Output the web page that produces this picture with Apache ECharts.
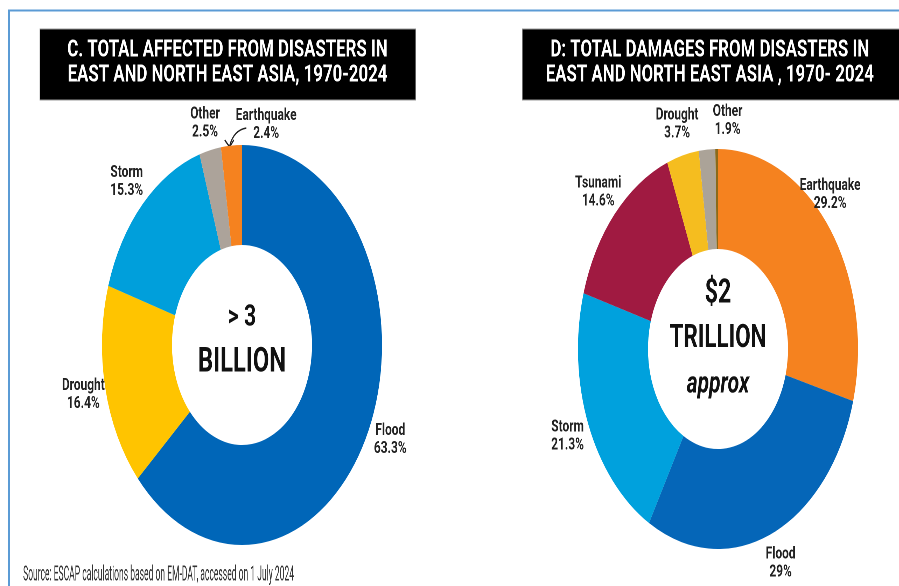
<!DOCTYPE html>
<html>
<head>
<meta charset="utf-8">
<script src="https://cdn.jsdelivr.net/npm/echarts@6/dist/echarts.min.js"></script>
<style>
  html, body { margin: 0; padding: 0; background: #fff; overflow: hidden; }
  #wrap { width: 899px; height: 586px; overflow: hidden; position: relative; }
  #chart { width: 1285px; height: 586px; transform: scaleX(0.7); transform-origin: 0 0; position: absolute; left: 0; top: 0; }
</style>
</head>
<body>
<div id="wrap"><div id="chart"></div></div>
<script>
// ---- data ----
const affectedCategories = ['Flood', 'Drought', 'Storm', 'Other', 'Earthquake'];
const affectedValues     = [63.3, 16.4, 15.3, 2.5, 2.4];
const affectedColors     = ['#0066b8', '#ffc400', '#009fdb', '#aca39a', '#f5821f'];

const damageCategories = ['Earthquake', 'Flood', 'Storm', 'Tsunami', 'Drought', 'Other', ''];
const damageValues     = [29.2, 29, 21.3, 14.6, 3.7, 1.9, 0.3];
const damageColors     = ['#f5821f', '#0566b8', '#00a1dd', '#a01a41', '#f5bd1f', '#aba398', '#8a6a1a'];

const titleLeft  = 'C. TOTAL AFFECTED FROM DISASTERS IN\nEAST AND NORTH EAST ASIA, 1970-2024';
const titleRight = 'D: TOTAL DAMAGES FROM DISASTERS IN\nEAST AND NORTH EAST ASIA , 1970- 2024';
const centerLeft  = ['> 3', 'BILLION'];
const centerRight = ['$2', 'TRILLION', 'approx'];
const sourceText = 'Source: ESCAP calculations based on EM-DAT, accessed on 1 July 2024';

// ---- layout (unscaled coordinates; page is squeezed horizontally by 0.7) ----
const leftCenter = [345.7, 345];
const rightCenter = [1025.7, 349];
const labelOffsetsLeft = { 4: { dx: 52, dy: 11 }, 3: { dx: 0, dy: 4 } };
const labelOffsetsRight = { 5: { dx: 32, dy: 3 }, 0: { dx: -24, dy: -13 } };

function mkData(cats, vals, colors, transparent) {
  return cats.map((c, i) => ({
    name: c,
    value: vals[i],
    itemStyle: { color: transparent ? 'rgba(0,0,0,0)' : colors[i] },
    label: { show: transparent && c !== '' }
  }));
}

const labelStyle = {
  show: true,
  position: 'inside',
  formatter: '{b}\n{c}%',
  color: '#222',
  fontFamily: 'Roboto',
  fontWeight: 'bold',
  fontSize: 17,
  lineHeight: 18,
  textBorderWidth: 0,
  align: 'center'
};

function pieSeries(center, data) {
  return {
    type: 'pie',
    center: center,
    radius: [100, 200],
    startAngle: 90,
    clockwise: true,
    avoidLabelOverlap: false,
    silent: true,
    label: { show: false },
    labelLine: { show: false },
    itemStyle: { borderWidth: 0 },
    emphasis: { disabled: true },
    data: data
  };
}
function labelSeries(center, data, offsets) {
  return {
    type: 'pie',
    center: center,
    radius: [220, 238],
    startAngle: 90,
    clockwise: true,
    avoidLabelOverlap: false,
    silent: true,
    label: labelStyle,
    labelLine: { show: false },
    itemStyle: { borderWidth: 0 },
    emphasis: { disabled: true },
    labelLayout: function (p) { return offsets[p.dataIndex] || {}; },
    data: data
  };
}

const chart = echarts.init(document.getElementById('chart'), null, { devicePixelRatio: 2 });

const titleFont = { fill: '#fff', fontFamily: 'Roboto', fontWeight: 'bold', fontSize: 24, lineHeight: 25, align: 'center', verticalAlign: 'middle' };
const bigFont = { fill: '#111', fontFamily: 'Roboto', fontWeight: 'bold', align: 'center', verticalAlign: 'middle' };

chart.setOption({
  animation: false,
  backgroundColor: '#fff',
  series: [
    pieSeries(leftCenter, mkData(affectedCategories, affectedValues, affectedColors, false)),
    labelSeries(leftCenter, mkData(affectedCategories, affectedValues, affectedColors, true), labelOffsetsLeft),
    pieSeries(rightCenter, mkData(damageCategories, damageValues, damageColors, false)),
    labelSeries(rightCenter, mkData(damageCategories, damageValues, damageColors, true), labelOffsetsRight)
  ],
  graphic: [
    // frame
    { type: 'line', shape: { x1: 11, y1: 10.5, x2: 1285, y2: 10.5 }, style: { stroke: '#5b9bd5', lineWidth: 2 } },
    { type: 'line', shape: { x1: 13, y1: 10, x2: 13, y2: 586 }, style: { stroke: '#5b9bd5', lineWidth: 3 } },
    // title boxes
    { type: 'rect', shape: { x: 57, y: 29, width: 537, height: 71 }, style: { fill: '#000', stroke: '#999', lineWidth: 1 } },
    { type: 'text', x: 325, y: 63, style: Object.assign({ text: titleLeft }, titleFont) },
    { type: 'rect', shape: { x: 746, y: 29, width: 540, height: 71 }, style: { fill: '#000', stroke: '#999', lineWidth: 1 } },
    { type: 'text', x: 1014, y: 63, style: Object.assign({ text: titleRight }, titleFont) },
    // center texts
    { type: 'text', x: leftCenter[0], y: 318, style: Object.assign({ text: centerLeft[0], fontSize: 30 }, bigFont) },
    { type: 'text', x: leftCenter[0], y: 363, style: Object.assign({ text: centerLeft[1], fontSize: 34 }, bigFont) },
    { type: 'text', x: rightCenter[0], y: 294, style: Object.assign({ text: centerRight[0], fontSize: 33 }, bigFont) },
    { type: 'text', x: rightCenter[0], y: 339, style: Object.assign({ text: centerRight[1], fontSize: 32 }, bigFont) },
    { type: 'text', x: rightCenter[0], y: 385, style: Object.assign({ text: centerRight[2], fontSize: 30, fontStyle: 'italic' }, bigFont) },
    // earthquake arrow
    { type: 'bezierCurve', shape: { x1: 352, y1: 128, cpx1: 334, cpy1: 130, x2: 328, y2: 146 }, style: { stroke: '#222', lineWidth: 1.6, fill: null } },
    { type: 'polyline', shape: { points: [[321, 140], [328, 147], [334, 140]] }, style: { stroke: '#222', lineWidth: 1.6, fill: null } },
    // source
    { type: 'text', x: 33, y: 575, scaleX: 0.58, style: { text: sourceText, fill: '#333', fontFamily: 'Roboto', fontSize: 21, verticalAlign: 'middle' } }
  ]
});
</script>
</body>
</html>
